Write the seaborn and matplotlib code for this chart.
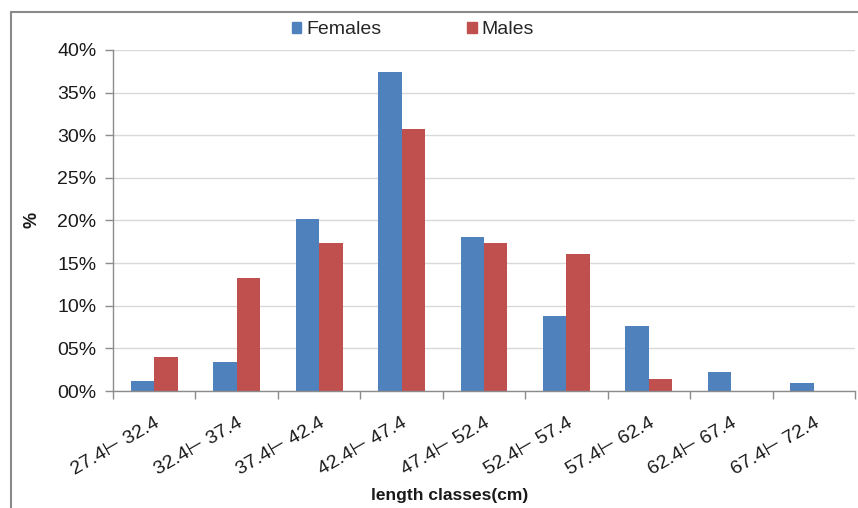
import matplotlib
matplotlib.use("Agg")
import matplotlib.pyplot as plt
import matplotlib.patches as mpatches
from matplotlib.ticker import FuncFormatter, MultipleLocator, FixedLocator
import seaborn as sns
import pandas as pd

# length classes and share of fish (%) in each class
classes = ["27.4\u22a2 32.4", "32.4\u22a2 37.4", "37.4\u22a2 42.4", "42.4\u22a2 47.4",
           "47.4\u22a2 52.4", "52.4\u22a2 57.4", "57.4\u22a2 62.4", "62.4\u22a2 67.4",
           "67.4\u22a2 72.4"]
females = [1.2, 3.4, 20.2, 37.4, 18.1, 8.8, 7.6, 2.2, 0.9]
males = [4.0, 13.3, 17.4, 30.7, 17.4, 16.1, 1.4, 0.0, 0.0]
series = ["Females", "Males"]
colors = ["#4F81BD", "#C0504D"]

df = pd.DataFrame({
    "cls": classes * 2,
    "value": females + males,
    "sex": [series[0]] * len(classes) + [series[1]] * len(classes),
})

sns.set_theme(style="white")
plt.rcParams["font.family"] = ["Liberation Sans", "DejaVu Sans"]

fig = plt.figure(figsize=(8.58, 5.08), dpi=100)
ax = fig.add_axes([113 / 858, 1 - 391 / 508, 742 / 858, 341 / 508])

sns.barplot(data=df, x="cls", y="value", hue="sex", order=classes,
            hue_order=series, palette=colors, width=0.57, gap=0,
            linewidth=0, saturation=1, ax=ax, legend=False)

ax.set_ylim(0, 40)
ax.set_xlim(-0.5, len(classes) - 0.5)
ax.yaxis.set_major_locator(MultipleLocator(5))
ax.yaxis.set_major_formatter(FuncFormatter(lambda v, p: f"{int(round(v)):02d}%"))
ax.grid(axis="y", color="#D9D9D9", linewidth=1.0)
ax.set_axisbelow(True)

for side in ["top", "right"]:
    ax.spines[side].set_visible(False)
for side in ["left", "bottom"]:
    ax.spines[side].set_color("#8C8C8C")
    ax.spines[side].set_linewidth(1.0)

# category boundaries carry the x tick marks; labels sit at the centers
ax.xaxis.set_major_locator(FixedLocator([i - 0.5 for i in range(len(classes) + 1)]))
ax.xaxis.set_major_formatter(FuncFormatter(lambda v, p: ""))
ax.xaxis.set_minor_locator(FixedLocator(list(range(len(classes)))))
ax.set_xticklabels(classes, minor=True)
ax.tick_params(axis="x", which="major", bottom=True, length=6, width=1,
               color="#8C8C8C", direction="out")
ax.tick_params(axis="x", which="minor", bottom=False, length=0, pad=17,
               labelsize=14, labelcolor="#1a1a1a")
for lbl in ax.get_xticklabels(minor=True):
    lbl.set_rotation(30)
    lbl.set_ha("right")
    lbl.set_rotation_mode("anchor")
ax.tick_params(axis="y", left=True, length=6, width=1, color="#8C8C8C",
               labelsize=14, labelcolor="#1a1a1a", pad=6)

ax.set_xlabel("length classes(cm)", fontsize=12.5, fontweight="bold", color="#1a1a1a")
ax.xaxis.set_label_coords((450 - 113) / 742, -0.285)
ax.set_ylabel("%", fontsize=13, fontweight="bold", color="#1a1a1a")
ax.yaxis.set_label_coords(-(113 - 40) / 742, (391 - 220) / 341)

handles = [mpatches.Patch(color=c, label=s) for c, s in zip(colors, series)]
fig.legend(handles=handles, loc="center", bbox_to_anchor=(0.481, 1 - 30 / 508),
           ncol=2, frameon=False, fontsize=14, handlelength=0.5,
           handleheight=0.5, handletextpad=0.25, columnspacing=4.4)

# outer chart border
fig.patches.append(mpatches.Rectangle((11 / 858, -0.2), 1.2, 1 - 12 / 508 + 0.2,
                                      transform=fig.transFigure, fill=False,
                                      edgecolor="#8A8A8A", linewidth=1.5))

fig.savefig("out.png", dpi=100)
